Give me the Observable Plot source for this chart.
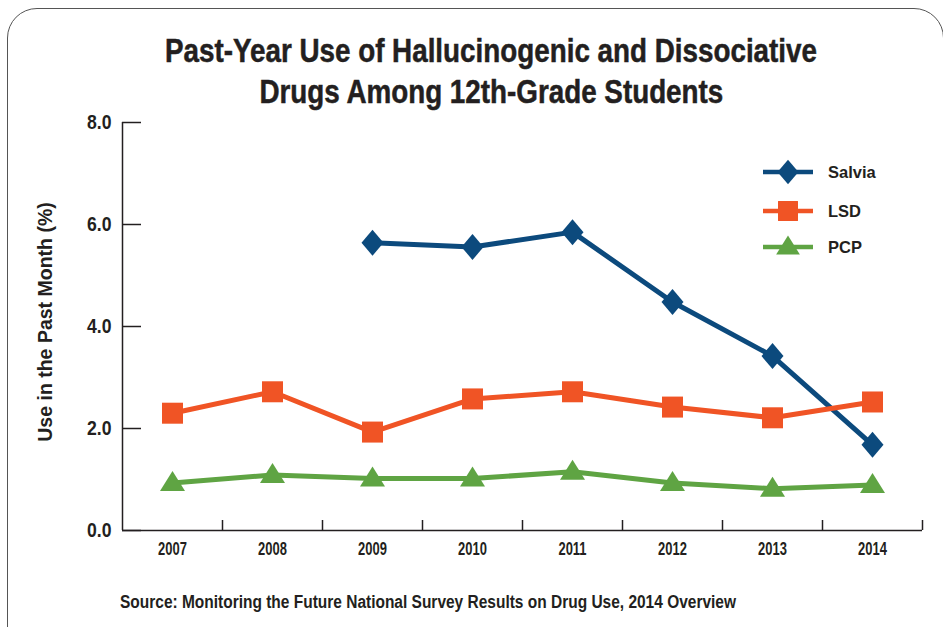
<!DOCTYPE html>
<html>
<head>
<meta charset="utf-8">
<script src="https://cdn.jsdelivr.net/npm/d3@7"></script>
<script src="https://cdn.jsdelivr.net/npm/@observablehq/plot@0.6"></script>
<style>
  html, body { margin: 0; padding: 0; background: #fff; }
  #wrap { position: relative; width: 943px; height: 627px; overflow: hidden; background: #fff; }
  .bold { font-family: "Liberation Sans", Arial, sans-serif; font-weight: bold; color: #231f20; }
  .heavy { -webkit-text-stroke: 0.5px #231f20; }
  #frame { position: absolute; left: 7px; top: 8px; width: 937px; height: 660px; border: 1.5px solid #555; border-radius: 30px; box-sizing: border-box; }
  #title { position: absolute; left: 0; width: 982px; top: 30px; text-align: center; font-size: 33px; line-height: 41px; }
  #title span { display: inline-block; white-space: nowrap; transform-origin: 50% 50%; }
  #ylabel { position: absolute; left: 45px; top: 322px; transform: translate(-50%, -50%) rotate(-90deg); font-size: 19.5px; white-space: nowrap; }
  #source { position: absolute; left: 120px; top: 593px; font-size: 18px; line-height: 18px; white-space: nowrap; transform-origin: 0 50%; }
  #legend { position: absolute; left: 762px; top: 155px; }
  .li { position: absolute; left: 0; display: flex; align-items: center; white-space: nowrap; }
  .li span { font-size: 16.5px; margin-left: 14px; }
  #plot { position: absolute; left: 0; top: 0; }
</style>
</head>
<body>
<div id="wrap">
  <div id="frame"></div>
  <div id="plot"></div>
  <div id="title" class="bold heavy"><span id="t1">Past-Year Use of Hallucinogenic and Dissociative</span><br><span id="t2">Drugs Among 12th-Grade Students</span></div>
  <div id="ylabel" class="bold">Use in the Past Month (%)</div>
  <div id="legend"></div>
  <div id="source" class="bold">Source: Monitoring the Future National Survey Results on Drug Use, 2014 Overview</div>
</div>
<script>
// ---- data ----
const years = [2007, 2008, 2009, 2010, 2011, 2012, 2013, 2014];
const salviaYears = [2009, 2010, 2011, 2012, 2013, 2014];
const salvia = [5.64, 5.56, 5.85, 4.48, 3.42, 1.68];
const lsd = [2.30, 2.72, 1.93, 2.58, 2.72, 2.42, 2.21, 2.52];
const pcp = [0.93, 1.09, 1.02, 1.02, 1.15, 0.93, 0.82, 0.89];
const seriesNames = ["Salvia", "LSD", "PCP"];
const seriesColors = ["#0c4a7d", "#f05425", "#5fa443"];
const yTicks = [0, 2, 4, 6, 8];
const yDomain = [0, 8];
const xDomain = [2006.5, 2014.5];
const xBoundaries = [2007.5, 2008.5, 2009.5, 2010.5, 2011.5, 2012.5, 2013.5, 2014.5];

const salviaData = salviaYears.map((year, i) => ({year, value: salvia[i], series: "Salvia"}));
const lsdData = years.map((year, i) => ({year, value: lsd[i], series: "LSD"}));
const pcpData = years.map((year, i) => ({year, value: pcp[i], series: "PCP"}));
const all = [...salviaData, ...lsdData, ...pcpData];

// ---- symbols (fixed pixel shapes) ----
const diamond = {draw(ctx) { ctx.moveTo(0, -13); ctx.lineTo(11, 0); ctx.lineTo(0, 13); ctx.lineTo(-11, 0); ctx.closePath(); }};
const square = {draw(ctx) { ctx.moveTo(-10.5, -10.5); ctx.lineTo(10.5, -10.5); ctx.lineTo(10.5, 10.5); ctx.lineTo(-10.5, 10.5); ctx.closePath(); }};
const triangle = {draw(ctx) { ctx.moveTo(0, -12); ctx.lineTo(12.5, 8); ctx.lineTo(-12.5, 8); ctx.closePath(); }};
const symbols = [diamond, square, triangle];

const font = '"Liberation Sans", Arial, sans-serif';
const ink = "#231f20";

const chart = Plot.plot({
  width: 943,
  height: 627,
  marginLeft: 122,
  marginRight: 21,
  marginTop: 122,
  marginBottom: 97,
  style: {background: "transparent", color: ink, overflow: "visible"},
  x: {domain: xDomain},
  y: {domain: yDomain},
  color: {domain: seriesNames, range: seriesColors},
  marks: [
    Plot.axisY(yTicks, {tickSize: -19, tickFormat: () => "", strokeWidth: 1.5, stroke: ink, label: null}),
    Plot.axisY(yTicks, {tickSize: 0, tickPadding: 11, tickFormat: d3.format(".1f"), fontSize: 20.5, fontWeight: "bold", fontFamily: font, fill: ink, stroke: ink, strokeWidth: 0.5, label: null}),
    Plot.axisX(xBoundaries, {tickSize: -10, tickFormat: () => "", strokeWidth: 1.5, stroke: ink, label: null}),
    Plot.axisX(years, {tickSize: 0, tickPadding: 12, tickFormat: d => String(d), fontSize: 18, fontWeight: "bold", fontFamily: font, fill: ink, stroke: ink, strokeWidth: 0.3, label: null}),
    Plot.ruleY([yDomain[0]], {stroke: ink, strokeWidth: 1.5}),
    Plot.ruleX([xDomain[0]], {stroke: ink, strokeWidth: 1.5}),
    Plot.line(all, {x: "year", y: "value", z: "series", stroke: "series", strokeWidth: 5, strokeLinejoin: "miter"}),
    ...seriesNames.map((name, i) =>
      Plot.dot(all.filter(d => d.series === name), {x: "year", y: "value", fill: "series", stroke: null, symbol: symbols[i], r: 10})
    )
  ]
});
document.getElementById("plot").appendChild(chart);

// condensed look for tick labels: horizontal squeeze of each label around its anchor
function squeeze(selector, s) {
  chart.querySelectorAll(selector).forEach(t => {
    const tr = t.getAttribute("transform") || "";
    t.setAttribute("transform", tr + ` scale(${s},1)`);
  });
}
squeeze('g[aria-label="y-axis tick label"] text', 0.86);
squeeze('g[aria-label="x-axis tick label"] text', 0.72);

// condensed look for title and source: fit to the reference widths
const t1 = document.getElementById("t1"), t2 = document.getElementById("t2");
const ts = 652 / t1.getBoundingClientRect().width;
t1.style.transform = `scaleX(${ts})`;
t2.style.transform = `scaleX(${ts})`;
const src = document.getElementById("source");
src.style.transform = `scaleX(${616 / src.getBoundingClientRect().width})`;

// ---- legend ----
const legend = document.getElementById("legend");
const legendY = [17, 56, 92];
seriesNames.forEach((name, i) => {
  const item = document.createElement("div");
  item.className = "li";
  item.style.top = (legendY[i] - 14) + "px";
  const svg = d3.create("svg").attr("width", 52).attr("height", 28);
  svg.append("line").attr("x1", 1).attr("x2", 51).attr("y1", 14).attr("y2", 14)
    .attr("stroke", seriesColors[i]).attr("stroke-width", 4.5);
  const p = d3.path();
  symbols[i].draw(p);
  svg.append("path").attr("d", p.toString()).attr("transform", "translate(26,14) scale(0.95)").attr("fill", seriesColors[i]);
  item.appendChild(svg.node());
  const span = document.createElement("span");
  span.className = "bold";
  span.textContent = name;
  item.appendChild(span);
  legend.appendChild(item);
});
</script>
</body>
</html>
